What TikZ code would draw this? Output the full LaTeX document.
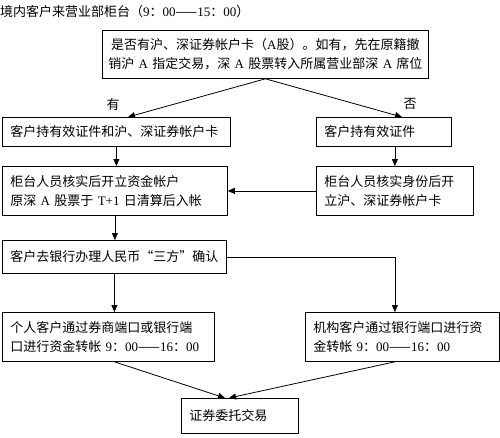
\documentclass[tikz,border=0pt]{standalone}
\usepackage{fontspec}
\setmainfont{Noto Sans CJK SC}
\newfontfamily\latf{Liberation Serif}
\newcommand{\lt}[1]{{\latf #1}}
\usetikzlibrary{arrows.meta,calc}
\begin{document}
\begin{tikzpicture}[x=1pt,y=-1pt,
  box/.style={draw,line width=0.8pt,anchor=north west,inner xsep=8pt,inner ysep=2pt,align=left,font=\fontsize{13}{19}\selectfont},
  arr/.style={line width=0.8pt,-{Triangle[length=7pt,width=6pt]}},
  lbl/.style={inner sep=0pt,font=\fontsize{13}{15}\selectfont}]
\useasboundingbox (0,0) rectangle (500,437);
\fill[white] (0,0) rectangle (500,437);

\node[lbl,anchor=west] (title) at (0,12) {境内客户来营业部柜台（\lt{9}：\lt{00}——\lt{15}：\lt{00}）};

\node[box,align=center,inner xsep=5pt,minimum width=326pt,text width=316pt,minimum height=48pt] (top) at (102,30)
  {是否有沪、深证券帐户卡（\lt{A}股）。如有，先在原籍撤\\销沪 \lt{A} 指定交易，深 \lt{A} 股票转入所属营业部深 \lt{A} 席位};

\node[box,minimum width=228pt,text width=212pt,minimum height=29pt] (a) at (2,117) {客户持有效证件和沪、深证券帐户卡};
\node[box,minimum width=135pt,text width=119pt,minimum height=29pt] (b) at (316,117) {客户持有效证件};
\node[box,minimum width=225pt,text width=209pt,minimum height=49pt] (c) at (2,166) {柜台人员核实后开立资金帐户\\原深 \lt{A} 股票于 \lt{T+1} 日清算后入帐};
\node[box,minimum width=157pt,text width=141pt,minimum height=49pt] (d) at (316,166) {柜台人员核实身份后开\\立沪、深证券帐户卡};
\node[box,minimum width=224pt,text width=208pt,minimum height=33pt] (e) at (2,240) {客户去银行办理人民币“三方”确认};
\node[box,minimum width=212pt,text width=196pt,minimum height=49pt] (f) at (2,312) {个人客户通过券商端口或银行端\\口进行资金转帐 \lt{9}：\lt{00}——\lt{16}：\lt{00}};
\node[box,minimum width=194pt,text width=178pt,minimum height=49pt] (g) at (305,312) {机构客户通过银行端口进行资\\金转帐 \lt{9}：\lt{00}——\lt{16}：\lt{00}};
\node[box,minimum width=117pt,text width=101pt,minimum height=35pt] (h) at (181,398) {证券委托交易};

\node[lbl] (yes) at (113,105) {有};
\node[lbl] (no) at (410,104) {否};

\coordinate (ta) at (128,117);
\coordinate (tb) at (402,117);
\coordinate (h1) at (225,398);
\coordinate (h2) at (229,398);

\draw[arr] (top.south) -- (ta);
\draw[arr] (top.south) -- (tb);
\draw[arr] (a.south) -- (a.south |- c.north);
\draw[arr] (b.south -| d.north) -- (d.north);
\draw[arr] (d.west) -- (c.east);
\draw[arr] (c.south) -- (c.south |- e.north);
\draw[arr] (e.south) -- (e.south |- f.north);
\draw[arr] (e.east) -| (d.north |- g.north);
\draw[arr] (f.south -| e.south) -- (h1);
\draw[arr] (g.south -| d.south) -- (h2);
\end{tikzpicture}
\end{document}
